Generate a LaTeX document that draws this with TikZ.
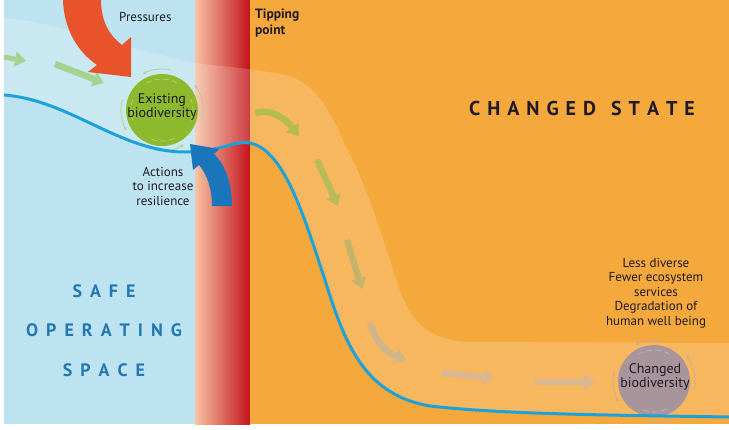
\documentclass[tikz,border=0pt]{standalone}
\usepackage{fontspec}
\setmainfont{PT Sans}
\usetikzlibrary{arrows.meta}
\definecolor{bgblue}{HTML}{BEE3F0}
\definecolor{bgorange}{HTML}{F5A83C}
\definecolor{linecyan}{HTML}{1CA2DA}
\definecolor{pressred}{HTML}{E9532B}
\definecolor{actblue}{HTML}{1A75BB}
\definecolor{biogreen}{HTML}{8DB92E}
\definecolor{biomauve}{HTML}{A8959C}
\definecolor{txtdark}{HTML}{1F1B26}
\definecolor{safeblue}{HTML}{2278B2}
\definecolor{redL}{HTML}{F7C3A3}
\definecolor{redM}{HTML}{E06848}
\definecolor{redR}{HTML}{C4121B}
\definecolor{arrA}{HTML}{A6D18F}
\definecolor{arrB}{HTML}{B5BC4F}
\definecolor{arrC}{HTML}{BABA58}
\definecolor{arrD}{HTML}{C4B46A}
\definecolor{arrE}{HTML}{D0B48A}
\definecolor{arrF}{HTML}{D8B791}
\definecolor{rotG}{HTML}{A9D08A}
\definecolor{rotM}{HTML}{C9A89E}
\begin{document}
\begin{tikzpicture}[x=1pt,y=-1pt,
  lbl/.style={font=\fontsize{13}{14.5}\selectfont, text=txtdark, align=center, inner sep=0pt},
  bigcap/.style={font=\fontsize{18}{20}\selectfont\bfseries, text=safeblue, inner sep=0pt},
  flow/.style={line width=6.5pt, -{Triangle[length=11pt,width=15pt]}},
  rot/.style={line width=0.7pt, -{Stealth[length=3.5pt,width=3pt]}},
  inrot/.style={line width=0.7pt, dash pattern=on 6pt off 3pt},
]
\useasboundingbox (0,0) rectangle (729,429);
\fill[white] (0,0) rectangle (729,429);
% backgrounds
\fill[bgblue] (4,0) rectangle (196,424);
\shade[left color=redL, middle color=redM, right color=redR] (195,0) rectangle (250,424);
\fill[bgorange] (250,0) rectangle (729,424);
% light band
\fill[white, opacity=0.18] (4,95) .. controls (70,100) and (120,152) .. (185,152)
  .. controls (220,152) and (235,140) .. (250,143)
  .. controls (285,150) and (305,220) .. (325,280)
  .. controls (345,345) and (365,395) .. (430,406)
  .. controls (500,414) and (600,415) .. (729,417)
  -- (729,343) -- (470,342) .. controls (425,340) and (410,320) .. (398,285)
  .. controls (385,245) and (365,180) .. (345,145)
  .. controls (330,110) and (315,82) .. (285,75)
  .. controls (250,68) and (225,67) .. (195,63)
  .. controls (130,50) and (60,22) .. (4,18) -- cycle;
% flow arrows
\coordinate (a1s) at (4,57); \coordinate (a1e) at (26,61);
\coordinate (a2s) at (55,64); \coordinate (a2e) at (104,83);
\coordinate (a3s) at (255,113); \coordinate (a3e) at (299,136);
\coordinate (a4s) at (317,160); \coordinate (a4e) at (338,206);
\coordinate (a5s) at (347,240); \coordinate (a5e) at (362,289);
\coordinate (a6s) at (370,323); \coordinate (a6e) at (406,360);
\coordinate (a7s) at (442,373); \coordinate (a7e) at (494,378);
\coordinate (a8s) at (535,382); \coordinate (a8e) at (595,382);
\draw[flow, arrA, line width=5pt] (a1s) -- (a1e);
\draw[flow, arrA] (a2s) -- (a2e);
\draw[flow, arrB] (a3s) .. controls (270,108) and (285,118) .. (a3e);
\draw[flow, arrC] (a4s) -- (a4e);
\draw[flow, arrD] (a5s) -- (a5e);
\draw[flow, arrE] (a6s) .. controls (375,340) and (385,352) .. (a6e);
\draw[flow, arrF] (a7s) -- (a7e);
\draw[flow, arrF] (a8s) -- (a8e);
% pressures arrow
\fill[pressred] (63,0) .. controls (64,30) and (78,52) .. (97,65) -- (88,72) -- (131,77)
  -- (131,37) -- (122,45) .. controls (110,36) and (101,22) .. (101,0) -- cycle;
% existing biodiversity
\node[circle, fill=biogreen, minimum size=72pt, inner sep=0pt] (exist) at (162,110) {};
\begin{scope}[rotG]
\draw[rot] (exist.center) ++(100:41) arc[start angle=100, end angle=58, radius=41];
\draw[rot] (exist.center) ++(12:41) arc[start angle=12, end angle=-38, radius=41];
\draw[rot] (exist.center) ++(-78:41) arc[start angle=-78, end angle=-118, radius=41];
\draw[rot] (exist.center) ++(-165:41) arc[start angle=-165, end angle=-210, radius=41];
\end{scope}
\begin{scope}[draw=white, opacity=0.35]
\draw[inrot] (exist.center) ++(110:31) arc[start angle=110, end angle=60, radius=31];
\draw[inrot] (exist.center) ++(-60:31) arc[start angle=-60, end angle=-120, radius=31];
\draw[inrot] (exist.center) ++(200:31) arc[start angle=200, end angle=160, radius=31];
\draw[inrot] (exist.center) ++(20:31) arc[start angle=20, end angle=-20, radius=31];
\end{scope}
\node[lbl, font=\fontsize{14}{14}\selectfont] (existtxt) at (162,107) {Existing\\biodiversity};
% changed biodiversity
\node[circle, fill=biomauve, minimum size=72pt, inner sep=0pt] (changed) at (654,381) {};
\begin{scope}[rotM]
\draw[rot] (changed.center) ++(100:41) arc[start angle=100, end angle=58, radius=41];
\draw[rot] (changed.center) ++(12:41) arc[start angle=12, end angle=-38, radius=41];
\draw[rot] (changed.center) ++(-78:41) arc[start angle=-78, end angle=-118, radius=41];
\draw[rot] (changed.center) ++(-165:41) arc[start angle=-165, end angle=-210, radius=41];
\end{scope}
\begin{scope}[draw=white, opacity=0.3]
\draw[inrot] (changed.center) ++(110:31) arc[start angle=110, end angle=60, radius=31];
\draw[inrot] (changed.center) ++(-60:31) arc[start angle=-60, end angle=-120, radius=31];
\end{scope}
\node[lbl, font=\fontsize{14}{14}\selectfont] (changedtxt) at (655,377) {Changed\\biodiversity};
% state line
\draw[linecyan, line width=3pt] (4,95) .. controls (70,100) and (120,152) .. (185,152)
  .. controls (220,152) and (235,140) .. (250,143)
  .. controls (285,150) and (305,220) .. (325,280)
  .. controls (345,345) and (365,395) .. (430,406)
  .. controls (500,414) and (600,415) .. (729,417);
% actions arrow
\fill[actblue] (212,206) .. controls (212,190) and (208,176) .. (199,165) -- (193,170)
  -- (190,144) -- (219,149) -- (214,154) .. controls (226,165) and (232,185) .. (232,206) -- cycle;
% texts
\node[lbl, anchor=west] (press) at (119,17) {Pressures};
\node[lbl, anchor=north west, align=left, font=\fontsize{13.5}{15.5}\selectfont\bfseries] (tip) at (255,9) {Tipping\\point};
\node[lbl] (actions) at (163,186) {Actions\\to increase\\resilience};
\node[lbl] (less) at (656,293) {Less diverse\\Fewer ecosystem\\services\\Degradation of\\human well being};
\node[inner sep=0pt, text=txtdark, font=\fontsize{20}{22}\selectfont\bfseries] (cs) at (582,108)
  {C\kern7pt H\kern7pt A\kern7pt N\kern7pt G\kern7pt E\kern7pt D\kern15pt S\kern7pt T\kern7pt A\kern7pt T\kern7pt E};
\node[bigcap] (safe) at (104,291) {S\kern8pt A\kern8pt F\kern8pt E};
\node[bigcap] (oper) at (104,330) {O\kern8pt P\kern8pt E\kern8pt R\kern8pt A\kern8pt T\kern8pt I\kern8pt N\kern8pt G};
\node[bigcap] (space) at (104,370) {S\kern8pt P\kern8pt A\kern8pt C\kern8pt E};
\end{tikzpicture}
\end{document}
